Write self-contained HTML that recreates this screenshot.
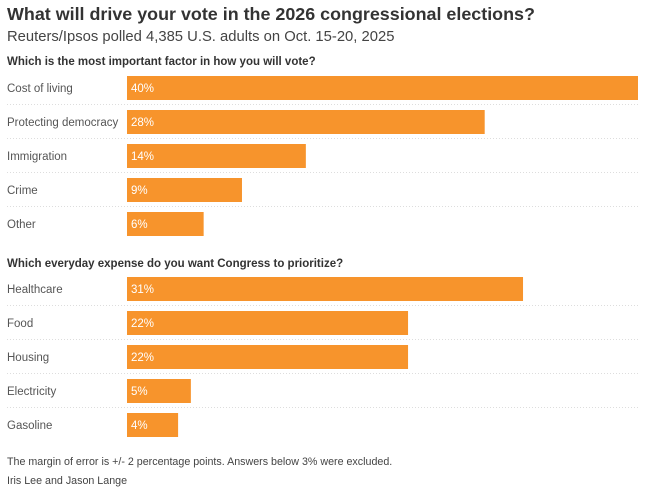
<!DOCTYPE html>
<html><head><meta charset="utf-8"><style>
body{margin:0;width:654px;height:495px;background:#fff;font-family:"Liberation Sans",sans-serif;color:#404040;position:relative;overflow:hidden}
.t{position:absolute;left:7px;white-space:nowrap}
</style></head><body>
<div class="t" style="top:4px;font-size:17.9px;font-weight:bold;color:#333">What will drive your vote in the 2026 congressional elections?</div>
<div class="t" style="top:29px;font-size:14.8px;color:#444">Reuters/Ipsos polled 4,385 U.S. adults on Oct. 15-20, 2025</div>
<div class="t" style="top:56px;font-size:11.5px;font-weight:bold;color:#333">Which is the most important factor in how you will vote?</div>
<div class="t" style="top:258px;font-size:11.5px;font-weight:bold;color:#333">Which everyday expense do you want Congress to prioritize?</div>
<svg id="c" width="654" height="495" style="position:absolute;left:0;top:0"></svg>
<div class="t" style="top:456px;font-size:10.7px;color:#444">The margin of error is +/- 2 percentage points. Answers below 3% were excluded.</div>
<div class="t" style="top:475px;font-size:10.7px;color:#444">Iris Lee and Jason Lange</div>
<script>
const cats1=["Cost of living","Protecting democracy","Immigration","Crime","Other"];
const vals1=[40,28,14,9,6];
const cats2=["Healthcare","Food","Housing","Electricity","Gasoline"];
const vals2=[31,22,22,5,4];
const svg=document.getElementById('c');
const NS='http://www.w3.org/2000/svg';
const x0=127,xmax=638,maxV=40;
const xs=v=>(xmax-x0)*v/maxV;
function draw(cats,vals,top){
  cats.forEach((c,i)=>{
    const y=top+i*34;
    if(i>0){const l=document.createElementNS(NS,'line');
      l.setAttribute('x1',7);l.setAttribute('x2',638);l.setAttribute('y1',y-5.5);l.setAttribute('y2',y-5.5);
      l.setAttribute('stroke','#ddd');l.setAttribute('stroke-dasharray','1,2');
      
      
      svg.appendChild(l);}
    const t=document.createElementNS(NS,'text');
    t.setAttribute('x',7);t.setAttribute('y',y+16);t.setAttribute('font-size','11.5');t.setAttribute('fill','#555');
    t.textContent=c;
    
    
    svg.appendChild(t);
    const r=document.createElementNS(NS,'rect');
    r.setAttribute('x',x0);r.setAttribute('y',y);r.setAttribute('width',xs(vals[i]));r.setAttribute('height',24);r.setAttribute('fill','#f7942c');
    
    
    svg.appendChild(r);
    const v=document.createElementNS(NS,'text');
    v.setAttribute('x',x0+4);v.setAttribute('y',y+16);v.setAttribute('font-size','11.5');v.setAttribute('fill','#fff');
    v.textContent=vals[i]+'%';
    
    
    svg.appendChild(v);
  });
}
draw(cats1,vals1,76);
draw(cats2,vals2,277);
</script>
</body></html>
